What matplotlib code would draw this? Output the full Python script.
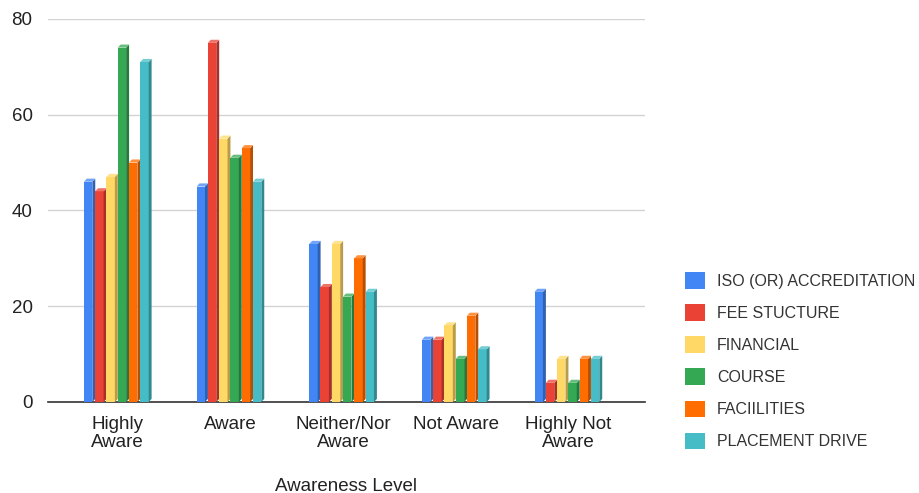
import matplotlib.pyplot as plt
from matplotlib.patches import Polygon
from matplotlib.colors import to_rgb
import numpy as np

plt.rcParams['font.family'] = ['Liberation Sans', 'DejaVu Sans']

levels = ['Highly\nAware', 'Aware', 'Neither/Nor\nAware', 'Not Aware', 'Highly Not\nAware']
series = ['ISO (OR) ACCREDITATION', 'FEE STUCTURE', 'FINANCIAL', 'COURSE',
          'FACIILITIES', 'PLACEMENT DRIVE']
iso = [46, 45, 33, 13, 23]
fee = [44, 75, 24, 13, 4]
financial = [47, 55, 33, 16, 9]
course = [74, 51, 22, 9, 4]
facilities = [50, 53, 30, 18, 9]
placement = [71, 46, 23, 11, 9]
values = [iso, fee, financial, course, facilities, placement]
colors = ['#4285F4', '#EA4335', '#FFD865', '#34A853', '#FF6D01', '#46BDC6']


def shade(c, f):
    r, g, b = to_rgb(c)
    return (r * f, g * f, b * f)


def tint(c, f):
    r, g, b = to_rgb(c)
    return (r + (1 - r) * f, g + (1 - g) * f, b + (1 - b) * f)


fig = plt.figure(figsize=(9.2, 4.93), dpi=100)
ax = fig.add_axes([0.052, 0.1846, 0.649, 0.777])

x = np.arange(len(levels))
step = 0.1       # slot per series inside a group
front = 0.075    # visible front face width
depth = 0.026    # side face width (x units)
rise = 0.65      # side/top face rise (y units)

handles = []
for j, (name, vals, col) in enumerate(zip(series, values, colors)):
    left = x - 0.3 + j * step
    bars = ax.bar(left, vals, width=front, align='edge', color=col,
                  edgecolor='none', zorder=3, label=name)
    handles.append(bars)
    # fake 3D: darker side face and lighter top face
    for bar in bars:
        x0 = bar.get_x()
        x1 = x0 + bar.get_width()
        h = bar.get_height()
        ax.add_patch(Polygon([(x1, 0), (x1 + depth, rise), (x1 + depth, h + rise), (x1, h)],
                             closed=True, facecolor=shade(col, 0.72), edgecolor='none', zorder=3))
        ax.add_patch(Polygon([(x0, h), (x1, h), (x1 + depth, h + rise), (x0 + depth, h + rise)],
                             closed=True, facecolor=tint(col, 0.25), edgecolor='none', zorder=3))

ax.set_xlim(-0.62, 4.68)
ax.set_ylim(0, 80)
ax.set_yticks([0, 20, 40, 60, 80])
ax.set_xticks(x)
ax.set_xticklabels(levels, fontsize=13.5, color='#222222', linespacing=1.1)
ax.tick_params(axis='y', length=0, pad=11, labelsize=13.5, labelcolor='#222222')
ax.tick_params(axis='x', length=0, pad=10)
ax.grid(axis='y', color='#d3d3d3', linewidth=1, zorder=0)
ax.set_axisbelow(True)
for s in ['top', 'right', 'left']:
    ax.spines[s].set_visible(False)
ax.spines['bottom'].set_color('#333333')
ax.spines['bottom'].set_linewidth(1.2)
ax.spines['bottom'].set_zorder(2)

ax.set_xlabel('Awareness Level', fontsize=13.5, color='#222222', labelpad=19)

fig.legend(handles=handles, labels=series, loc='center left',
           bbox_to_anchor=(0.729, 0.268), frameon=False, fontsize=11.5,
           handlelength=1.25, handleheight=1.25, handletextpad=0.75,
           labelspacing=0.95, labelcolor='#333333')

fig.savefig('out.png', dpi=100)
